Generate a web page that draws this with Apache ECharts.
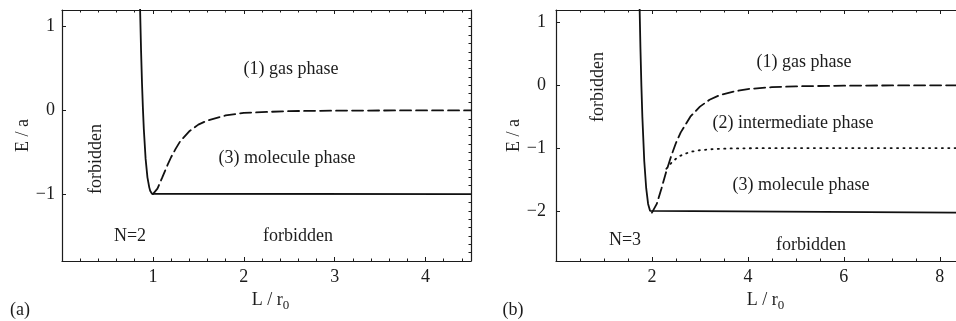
<!DOCTYPE html>
<html>
<head>
<meta charset="utf-8">
<script src="https://cdn.jsdelivr.net/npm/echarts/dist/echarts.min.js"></script>
<style>html,body{margin:0;padding:0;background:#fff}#c{width:956px;height:321px}</style>
</head>
<body>
<div id="c"></div>
<script>
// ---------- Panel (a): N=2 ----------
const aSolidL = [0.85, 0.86, 0.87, 0.88, 0.89, 0.90, 0.92, 0.94, 0.96, 0.97, 0.98, 0.99, 1.0, 4.5];
const aSolidE = [1.73, 1.17, 0.71, 0.33, 0.03, -0.22, -0.58, -0.80, -0.92, -0.96, -0.98, -0.996, -1.0, -1.0];
const aDashL = [1.0, 1.05, 1.1, 1.15, 1.2, 1.25, 1.3, 1.4, 1.5, 1.6, 1.8, 2.0, 2.5, 3.0, 3.5, 4.5];
const aDashE = [-1.0, -0.935, -0.81, -0.68, -0.56, -0.46, -0.37, -0.25, -0.17, -0.12, -0.06, -0.03, -0.008, -0.003, -0.001, 0];
const aXMajor = [1, 2, 3, 4];
const aXMinor = [0.2, 0.4, 0.6, 0.8, 1.2, 1.4, 1.6, 1.8, 2.2, 2.4, 2.6, 2.8, 3.2, 3.4, 3.6, 3.8, 4.2, 4.4];
const aYMajor = [-1, 0, 1];
const aYRight = [-1.7, -1.6, -1.5, -1.4, -1.3, -1.2, -1.1, -1.0, -0.9, -0.8, -0.7, -0.6, -0.5, -0.4, -0.3, -0.2, -0.1, 0, 0.1, 0.2, 0.3, 0.4, 0.5, 0.6, 0.7, 0.8, 0.9, 1.0, 1.1];

// ---------- Panel (b): N=3 ----------
const bSolidL = [1.72, 1.74, 1.76, 1.78, 1.80, 1.84, 1.88, 1.92, 1.96, 1.98, 2.0, 8.4];
const bSolidE = [2.26, 1.34, 0.59, -0.01, -0.50, -1.21, -1.64, -1.89, -2.00, -2.025, -2.03, -2.03];
const bDashL = [2.0, 2.1, 2.2, 2.3, 2.4, 2.5, 2.6, 2.8, 3.0, 3.2, 3.4, 3.7, 4.0, 4.5, 5.0, 6.0, 7.0, 8.4];
const bDashE = [-2.03, -1.89, -1.64, -1.37, -1.13, -0.92, -0.75, -0.50, -0.34, -0.23, -0.16, -0.10, -0.06, -0.03, -0.016, -0.006, -0.002, 0];
const bDotL = [2.3, 2.4, 2.5, 2.6, 2.8, 3.0, 3.3, 3.6, 4.0, 5.0, 8.4];
const bDotE = [-1.33, -1.24, -1.17, -1.12, -1.06, -1.035, -1.015, -1.007, -1.003, -1.0, -1.0];
const bXMajor = [2, 4, 6, 8];
const bXMinor = [0.5, 1, 1.5, 2.5, 3, 3.5, 4.5, 5, 5.5, 6.5, 7, 7.5];
const bYMajor = [-2, -1, 0, 1];
const bYRight = [-2.5, -2, -1.5, -1, -0.5, 0, 0.5, 1];

const FONT = '"Liberation Serif", "Times New Roman", serif';
const INK = '#1c1c1c';
const FS = 18;
const minus = v => String(v).replace('-', '\u2212');
const pairs = (xs, ys) => xs.map((x, i) => [x, ys[i]]);

function xAx(grid, min, max, pos, ticks, len, opt) {
  return Object.assign({
    type: 'value', gridIndex: grid, min: min, max: max, position: pos,
    axisLine: { show: true, onZero: false, lineStyle: { color: INK, width: 1.2 } },
    axisTick: { show: true, inside: true, length: len, customValues: ticks, lineStyle: { color: INK, width: 1 } },
    axisLabel: { show: false },
    splitLine: { show: false }
  }, opt || {});
}
const nameRich = {
  n: { fontFamily: FONT, fontSize: FS, color: INK, lineHeight: 24, verticalAlign: 'middle' },
  s: { fontFamily: FONT, fontSize: 13, color: INK, lineHeight: 12, verticalAlign: 'bottom' }
};
function mainX(grid, min, max, majors, nameGap, pad) {
  return xAx(grid, min, max, 'bottom', majors, 4, {
    axisLabel: { show: true, customValues: majors, margin: 7, fontFamily: FONT, fontSize: FS, color: INK, formatter: minus },
    name: '{n|L / r}{s|0}', nameLocation: 'middle', nameGap: nameGap,
    nameTextStyle: { rich: nameRich, padding: pad }
  });
}
function mainY(grid, min, max, majors, margin, nameGap) {
  return {
    type: 'value', gridIndex: grid, min: min, max: max, position: 'left',
    axisLine: { show: true, onZero: false, lineStyle: { color: INK, width: 1.2 } },
    axisTick: { show: true, inside: true, length: 4, customValues: majors, lineStyle: { color: INK } },
    axisLabel: { show: true, customValues: majors, margin: margin, fontFamily: FONT, fontSize: FS, color: INK, formatter: minus },
    splitLine: { show: false },
    name: 'E / a', nameLocation: 'middle', nameGap: nameGap, nameRotate: 90,
    nameTextStyle: { fontFamily: FONT, fontSize: FS, color: INK }
  };
}
function rightY(grid, min, max, ticks) {
  return {
    type: 'value', gridIndex: grid, min: min, max: max, position: 'right',
    axisLine: { show: true, onZero: false, lineStyle: { color: INK, width: 1.2 } },
    axisTick: { show: true, inside: true, length: 2.5, customValues: ticks, lineStyle: { color: INK } },
    axisLabel: { show: false }, splitLine: { show: false }
  };
}
function txt(x, y, t, rot) {
  return {
    type: 'text', x: x, y: y, rotation: rot || 0, silent: true,
    style: { text: t, font: FS + 'px ' + FONT, fill: INK, align: 'center', verticalAlign: 'middle' }
  };
}
function line(xi, yi, data, type) {
  return {
    type: 'line', xAxisIndex: xi, yAxisIndex: yi, data: data, symbol: 'none', showSymbol: false,
    smooth: false, clip: true, animation: false,
    lineStyle: { color: '#111', width: 1.8, type: type, cap: type === 'solid' ? 'butt' : 'round' }
  };
}

const chart = echarts.init(document.getElementById('c'), null, { renderer: 'canvas' });
chart.setOption({
  animation: false,
  backgroundColor: '#fff',
  grid: [
    { left: 62, top: 10, width: 409, height: 251, outerBoundsMode: 'none', containLabel: false },
    { left: 556, top: 10, width: 403, height: 251, outerBoundsMode: 'none', containLabel: false }
  ],
  xAxis: [
    mainX(0, 0, 4.5, aXMajor, 27, [0, 0, 0, 8]),
    xAx(0, 0, 4.5, 'bottom', aXMinor, 2.5, { axisLine: { show: false, onZero: false } }),
    xAx(0, 0, 4.5, 'top', aXMajor, 4),
    xAx(0, 0, 4.5, 'top', aXMinor, 2.5, { axisLine: { show: false, onZero: false } }),
    mainX(1, 0, 8.4, bXMajor, 27, [0, 0, 0, 16]),
    xAx(1, 0, 8.4, 'bottom', bXMinor, 2.5, { axisLine: { show: false, onZero: false } }),
    xAx(1, 0, 8.4, 'top', bXMajor, 4),
    xAx(1, 0, 8.4, 'top', bXMinor, 2.5, { axisLine: { show: false, onZero: false } })
  ],
  yAxis: [
    mainY(0, -1.8, 1.2, aYMajor, 7, 30),
    rightY(0, -1.8, 1.2, aYRight),
    mainY(1, -2.8, 1.2, bYMajor, 10, 33),
    rightY(1, -2.8, 1.2, bYRight)
  ],
  series: [
    line(0, 0, pairs(aSolidL, aSolidE), 'solid'),
    line(0, 0, pairs(aDashL, aDashE), [11, 5]),
    line(4, 2, pairs(bSolidL, bSolidE), 'solid'),
    line(4, 2, pairs(bDashL, bDashE), [11, 5]),
    line(4, 2, pairs(bDotL, bDotE), [1.2, 5.2])
  ],
  graphic: [
    txt(291, 69, '(1) gas phase'),
    txt(287, 158, '(3) molecule phase'),
    txt(96, 159, 'forbidden', Math.PI / 2),
    txt(130, 236, 'N=2'),
    txt(298, 236, 'forbidden'),
    txt(20, 310, '(a)'),
    txt(804, 62, '(1) gas phase'),
    txt(793, 123, '(2) intermediate phase'),
    txt(801, 185, '(3) molecule phase'),
    txt(598, 87, 'forbidden', Math.PI / 2),
    txt(625, 240, 'N=3'),
    txt(811, 245, 'forbidden'),
    txt(513, 310, '(b)')
  ]
});
</script>
</body>
</html>
